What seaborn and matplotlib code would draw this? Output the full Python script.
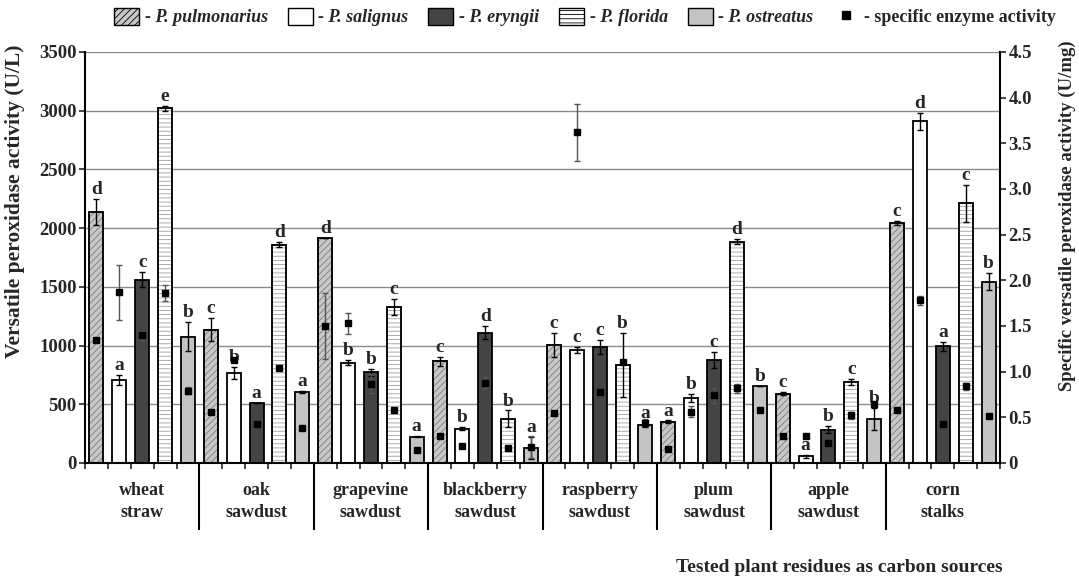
import matplotlib
matplotlib.use("Agg")
import matplotlib.pyplot as plt
import matplotlib.transforms as mtransforms
from matplotlib.patches import Patch, Rectangle
from matplotlib.lines import Line2D
from matplotlib.ticker import FixedLocator
import seaborn as sns
import pandas as pd
import numpy as np

"""
Versatile peroxidase activity of five Pleurotus species on plant residues
"""

residues = ["wheat\nstraw", "oak\nsawdust", "grapevine\nsawdust", "blackberry\nsawdust",
            "raspberry\nsawdust", "plum\nsawdust", "apple\nsawdust", "corn\nstalks"]
species = ["P. pulmonarius", "P. salignus", "P. eryngii", "P. florida", "P. ostreatus"]

# versatile peroxidase activity (U/L), residue order
vp_pulmonarius = [2136, 1136, 1918, 866, 1006, 352, 591, 2045]
vp_salignus = [707, 767, 855, 292, 960, 554, 57, 2909]
vp_eryngii = [1560, 508, 772, 1108, 991, 878, 284, 994]
vp_florida = [3020, 1860, 1330, 377, 835, 1886, 687, 2210]
vp_ostreatus = [1076, 605, 222, 128, 324, 659, 375, 1545]

# standard deviations of VP activity
sd_pulmonarius = [110, 100, 0, 40, 100, 10, 15, 15]
sd_salignus = [45, 50, 20, 15, 25, 35, 15, 75]
sd_eryngii = [65, 0, 30, 55, 60, 65, 30, 40]
sd_florida = [20, 25, 70, 70, 275, 25, 25, 160]
sd_ostreatus = [125, 10, 5, 95, 15, 0, 90, 75]

# specific enzyme activity (U/mg)
spec_pulmonarius = [1.35, 0.56, 1.50, 0.29, 0.55, 0.15, 0.29, 0.58]
spec_salignus = [1.87, 1.13, 1.53, 0.19, 3.62, 0.56, 0.30, 1.78]
spec_eryngii = [1.40, 0.43, 0.87, 0.88, 0.78, 0.74, 0.22, 0.43]
spec_florida = [1.86, 1.04, 0.58, 0.16, 1.11, 0.82, 0.52, 0.84]
spec_ostreatus = [0.79, 0.38, 0.14, 0.18, 0.44, 0.58, 0.65, 0.51]

spec_sd_pulmonarius = [0, 0, 0.36, 0, 0, 0, 0, 0]
spec_sd_salignus = [0.30, 0, 0.115, 0, 0.315, 0.06, 0, 0.05]
spec_sd_eryngii = [0.05, 0, 0.10, 0.06, 0.03, 0.08, 0, 0]
spec_sd_florida = [0.085, 0, 0, 0, 0, 0.05, 0.04, 0.04]
spec_sd_ostreatus = [0.04, 0, 0, 0.12, 0.04, 0, 0, 0]

# significance letters
let_pulmonarius = ["d", "c", "d", "c", "c", "a", "c", "c"]
let_salignus = ["a", "b", "b", "b", "c", "b", "a", "d"]
let_eryngii = ["c", "a", "b", "d", "c", "c", "b", "a"]
let_florida = ["e", "d", "c", "b", "b", "d", "c", "c"]
let_ostreatus = ["b", "a", "a", "a", "a", "b", "b", "b"]

vp = [vp_pulmonarius, vp_salignus, vp_eryngii, vp_florida, vp_ostreatus]
vp_sd = [sd_pulmonarius, sd_salignus, sd_eryngii, sd_florida, sd_ostreatus]
spec = [spec_pulmonarius, spec_salignus, spec_eryngii, spec_florida, spec_ostreatus]
spec_sd = [spec_sd_pulmonarius, spec_sd_salignus, spec_sd_eryngii, spec_sd_florida, spec_sd_ostreatus]
letters = [let_pulmonarius, let_salignus, let_eryngii, let_florida, let_ostreatus]

rows = []
for k, sp in enumerate(species):
    for j, res in enumerate(residues):
        rows.append({"residue": res, "species": sp, "vp": vp[k][j], "vp_sd": vp_sd[k][j],
                     "spec": spec[k][j], "spec_sd": spec_sd[k][j], "letter": letters[k][j]})
df = pd.DataFrame(rows)

colors = {"P. pulmonarius": "#c8c8c8", "P. salignus": "#ffffff", "P. eryngii": "#444444",
          "P. florida": "#ffffff", "P. ostreatus": "#c4c4c4"}
hatches = {"P. pulmonarius": "/////", "P. salignus": "", "P. eryngii": "",
           "P. florida": "----", "P. ostreatus": ""}
hatch_colors = {"P. pulmonarius": "#7a7a7a", "P. florida": "#a0a0a0"}

sns.set_style("white")
plt.rcParams["font.family"] = ["Liberation Serif", "DejaVu Serif"]
plt.rcParams["font.weight"] = "bold"
plt.rcParams["hatch.linewidth"] = 0.6

fig = plt.figure(figsize=(10.79, 5.82), dpi=100)
ax = fig.add_axes([0.0788, 0.2045, 0.848, 0.7062])

sns.barplot(data=df, x="residue", y="vp", hue="species", order=residues, hue_order=species,
            palette=colors, width=1.0, gap=0.39, errorbar=None, legend=False,
            edgecolor="black", linewidth=1.3, ax=ax)

# bar centers per species / residue; hatched bars get a grey hatch and a black outline
centers = {}
for k, cont in enumerate(list(ax.containers)):
    sp = species[k]
    for j, bar in enumerate(cont):
        centers[(sp, residues[j])] = bar.get_x() + bar.get_width() / 2
        if hatches[sp]:
            bar.set_hatch(hatches[sp])
            bar.set_edgecolor(hatch_colors[sp])
            ax.add_patch(Rectangle(bar.get_xy(), bar.get_width(), bar.get_height(),
                                   fill=False, edgecolor="black", linewidth=1.3, zorder=bar.get_zorder()))
df["xpos"] = [centers[(s, r)] for s, r in zip(df["species"], df["residue"])]

ax.errorbar(df["xpos"], df["vp"], yerr=df["vp_sd"], fmt="none", ecolor="black",
            elinewidth=1.0, capsize=2.5, capthick=1.0, zorder=4)
for _, r in df.iterrows():
    ax.text(r["xpos"], r["vp"] + r["vp_sd"] + 8, r["letter"], ha="center", va="bottom",
            fontsize=14, fontweight="bold")

ax.set_xlim(-0.5, 7.5)
ax.set_ylim(0, 3500)
ax.set_yticks(np.arange(0, 3501, 500))
ax.yaxis.grid(True, color="#8a8a8a", linewidth=1.0)
ax.set_axisbelow(True)
ax.set_xlabel("")
ax.set_ylabel("")
ax.tick_params(axis="y", direction="out", length=4, width=1.2, labelsize=13.5, left=True, pad=2)
ax.tick_params(axis="x", which="major", length=0, pad=14, labelsize=13)
ax.xaxis.set_minor_locator(FixedLocator([-0.5 + 0.2 * i for i in range(41)]))
ax.tick_params(axis="x", which="minor", direction="out", length=4, width=1.2, bottom=True)
for lab in ax.get_xticklabels():
    lab.set_linespacing(1.35)
for side in ["left", "bottom"]:
    ax.spines[side].set_linewidth(1.5)
    ax.spines[side].set_color("black")
ax.spines["top"].set_visible(False)
ax.spines["right"].set_visible(False)

trans = mtransforms.blended_transform_factory(ax.transData, ax.transAxes)
ax.vlines(np.arange(0.5, 7.5, 1.0), 0, -0.163, transform=trans, clip_on=False,
          color="black", linewidth=1.5)

ax2 = ax.twinx()
ax2.errorbar(df["xpos"], df["spec"], yerr=df["spec_sd"], fmt="s", color="black",
             markersize=5, ecolor="#555555", elinewidth=1.0, capsize=2.5, capthick=1.0)
ax2.set_ylim(0, 4.5)
ticks2 = np.arange(0, 4.51, 0.5)
ax2.set_yticks(ticks2)
ax2.set_yticklabels(["0"] + [f"{t:.1f}" for t in ticks2[1:]])
ax2.tick_params(axis="y", direction="out", length=4, width=1.2, labelsize=13.5, right=True, pad=2)
ax2.spines["right"].set_linewidth(1.5)
ax2.spines["right"].set_color("black")
ax2.spines["top"].set_visible(False)
ax2.spines["left"].set_visible(False)
ax2.spines["bottom"].set_visible(False)
ax2.grid(False)

fig.text(0.014, 0.655, "Versatile peroxidase activity (U/L)", rotation=90, ha="center",
         va="center", fontsize=15.5, fontweight="bold")
fig.text(0.989, 0.629, "Specific versatile peroxidase activity (U/mg)", rotation=90,
         ha="center", va="center", fontsize=13.5, fontweight="bold")
fig.text(0.778, 0.025, "Tested plant residues as carbon sources", ha="center", va="center",
         fontsize=14, fontweight="bold")

handles = [Patch(facecolor=colors[s], edgecolor="black", hatch=hatches[s], linewidth=1.0)
           for s in species]
handles.append(Line2D([], [], marker="s", color="black", linestyle="none", markersize=6))
labels = ["- " + s for s in species] + ["- specific enzyme activity"]
leg = fig.legend(handles, labels, loc="upper center", bbox_to_anchor=(0.542, 1.015), ncol=6,
                 frameon=False, prop={"size": 13, "weight": "bold", "style": "italic"},
                 handlelength=1.4, handleheight=1.1, handletextpad=0.3, columnspacing=1.1)
leg.get_texts()[-1].set_fontstyle("normal")

fig.savefig("out.png", dpi=100)
